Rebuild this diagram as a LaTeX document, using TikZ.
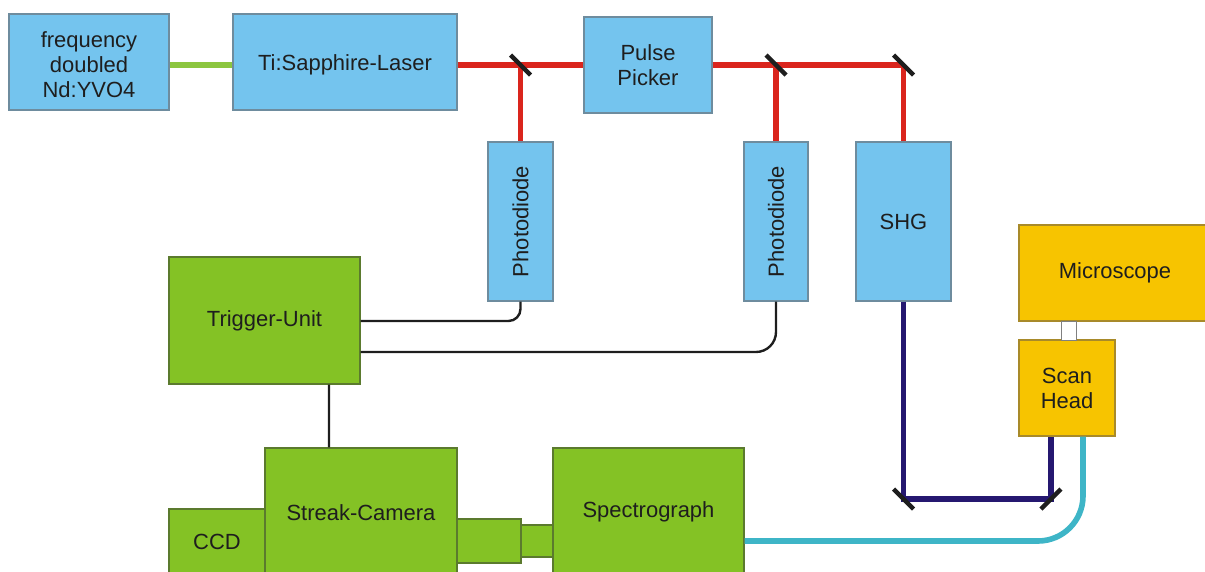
\documentclass[tikz,border=0pt]{standalone}
\usepackage{fontspec}
\setmainfont{Liberation Sans}
\usetikzlibrary{calc}
\definecolor{boxblue}{HTML}{74C4EE}
\definecolor{blueedge}{HTML}{6E8C9E}
\definecolor{boxgreen}{HTML}{84C225}
\definecolor{greenedge}{HTML}{5B7A2E}
\definecolor{boxyellow}{HTML}{F7C400}
\definecolor{yellowedge}{HTML}{A88A2A}
\definecolor{beamred}{HTML}{DA251D}
\definecolor{beamgreen}{HTML}{8CC63F}
\definecolor{beamuv}{HTML}{251870}
\definecolor{fibre}{HTML}{3EB5C7}
\definecolor{ink}{HTML}{1E1E1E}
\begin{document}
\begin{tikzpicture}[x=0.02cm,y=-0.02cm,
  txt/.style={font=\fontsize{12.5}{14.2}\selectfont, text=ink, align=center, inner sep=0pt},
  box/.style={txt, draw, line width=0.6pt},
  optic/.style={box, fill=boxblue, draw=blueedge},
  unit/.style={box, fill=boxgreen, draw=greenedge},
  microbox/.style={box, fill=boxyellow, draw=yellowedge},
  beam/.style={line width=3.2pt},
  wire/.style={line width=1.35pt, draw=ink},
  mirror/.style={line width=2.5pt, draw=ink}
]
\useasboundingbox (0,0) rectangle (1205,572);
\clip (0,0) rectangle (1205,572);

% laser chain
\node[optic, minimum width=3.2cm, minimum height=1.92cm] (nd) at (89,62) {};
\node[txt] (ndtext) at (89,65) {frequency\\doubled\\Nd:YVO4};
\node[optic, minimum width=4.48cm, minimum height=1.92cm] (ti) at (345,62) {};
\node[txt] (titext) at (345,65) {Ti:Sapphire-Laser};
\node[optic, minimum width=2.56cm, minimum height=1.92cm] (pp) at (648,65) {Pulse\\Picker};

% detectors and frequency doubling
\node[optic, minimum width=1.3cm, minimum height=3.18cm] (pd1) at (520.5,221.5) {};
\node[txt, rotate=90] (pd1text) at (pd1) {Photodiode};
\node[optic, minimum width=1.28cm, minimum height=3.18cm] (pd2) at (776,221.5) {};
\node[txt, rotate=90] (pd2text) at (pd2) {Photodiode};
\node[optic, minimum width=1.9cm, minimum height=3.18cm] (shg) at (903.5,221.5) {SHG};

% electronics and detection
\node[unit, minimum width=3.82cm, minimum height=2.54cm] (trig) at (264.5,320.5) {Trigger-Unit};
\node[unit, minimum width=1.92cm, minimum height=1.3cm] (ccd) at (217,541.5) {CCD};
\node[unit, minimum width=3.84cm, minimum height=2.6cm] (streak) at (361,513) {Streak-Camera};
\node[unit, minimum width=1.28cm, minimum height=0.88cm] (sb1) at (489,541) {};
\node[unit, minimum width=0.64cm, minimum height=0.64cm] (sb2) at (537,541) {};
\node[unit, minimum width=3.82cm, minimum height=2.56cm] (spec) at (648.5,512) {Spectrograph};

% microscope
\node[microbox, minimum width=3.84cm, minimum height=1.92cm] (mic) at (1115,273) {Microscope};
\node[microbox, minimum width=1.92cm, minimum height=1.92cm] (scan) at (1067,388) {Scan\\Head};
\node[draw=gray, fill=white, line width=0.5pt, inner sep=0pt, minimum width=0.3cm, minimum height=0.38cm] (tube) at (1068.5,330.5) {};

% beam path coordinates
\coordinate (m1) at (pd1.north |- pp.west);
\coordinate (m2) at (pd2.north |- pp.east);
\coordinate (m3) at (shg.north |- pp.east);
\coordinate (m4) at (903.5,499);
\coordinate (m5) at (1051,499);

% pump and laser beams
\draw[beam, beamgreen] (nd.east |- pp.west) -- (ti.west |- pp.west);
\draw[beam, beamred] (ti.east |- pp.west) -- (pp.west);
\draw[beam, beamred] (pp.east) -- (m3);
\draw[beam, beamred] (m1) -- (pd1.north);
\draw[beam, beamred] (m2) -- (pd2.north);
\draw[beam, beamred] (m3) -- (shg.north);

% frequency doubled beam to the scan head
\draw[beam, beamuv] (shg.south) -- (m4) -- (m5) -- (m5 |- scan.south);

% fibre from scan head to spectrograph
\draw[beam, fibre, rounded corners=0.9cm] ($(scan.south)+(16,0)$) |- (spec.east |- sb1.east);

% mirrors
\foreach \m in {m1,m2,m3,m4}
  \draw[mirror] ($(\m)+(-10,-10)$) -- ($(\m)+(10,10)$);
\draw[mirror] ($(m5)+(-10,10)$) -- ($(m5)+(10,-10)$);

% trigger signal cables
\draw[wire, rounded corners=0.24cm] (trig.east |- 0,321) -| (pd1.south);
\draw[wire, rounded corners=0.4cm] (trig.east |- 0,352) -| (pd2.south);
\draw[wire] ($(trig.south)+(64.5,0)$) -- ($(streak.north)+(-32,0)$);
\end{tikzpicture}
\end{document}
